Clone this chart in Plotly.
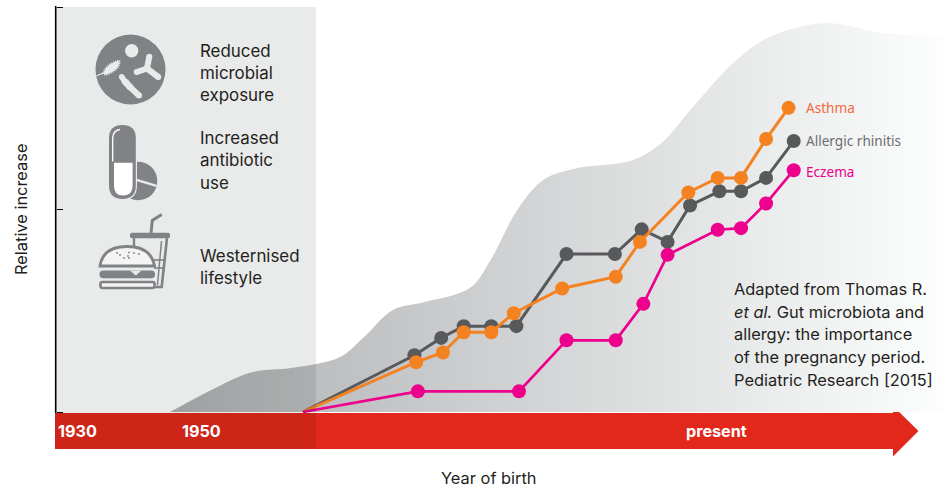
import plotly.graph_objects as go

W, H = 952, 488
X0_PX, X_SCALE = 55, 8.64
Y0_PX, Y_SCALE = 412, 4.05

asthma_x = [28.7, 41.8, 44.9, 47.3, 50.5, 53.1, 58.7, 64.9, 67.7, 73.3, 76.7, 79.4, 82.3, 84.9]
asthma_y = [0, 12.3, 14.7, 19.7, 19.7, 24.4, 30.5, 33.4, 42.0, 54.2, 57.8, 57.8, 67.4, 75.1]
rhinitis_x = [28.7, 41.6, 44.7, 47.3, 50.5, 53.4, 59.2, 64.8, 67.9, 70.9, 73.5, 76.9, 79.4, 82.3, 85.5]
rhinitis_y = [0, 14.0, 18.3, 21.2, 21.2, 21.2, 39.0, 39.0, 45.1, 42.0, 51.0, 54.5, 54.5, 57.8, 66.9]
eczema_x = [28.7, 42.0, 53.7, 59.2, 64.9, 68.1, 70.9, 76.7, 79.4, 82.3, 85.5]
eczema_y = [0, 5.1, 5.1, 17.7, 17.7, 26.7, 38.8, 45.0, 45.4, 51.5, 59.7]
hill_x = [13.3, 18.8, 22.8, 27.5, 33.0, 35.8, 39.1, 42.7, 48.0, 50.4, 53.5,
          56.5, 60.0, 66.9, 70.4, 73.5, 78.5, 82.4, 88.9, 95.8, 103.4]
hill_y = [0, 6.2, 9.8, 10.9, 13.6, 18.6, 25.2, 27.1, 30.6, 37.5, 49.9,
          57.3, 60.0, 62.2, 66.8, 74.5, 86.2, 92.3, 96.0, 93.6, 92.8]

ORANGE, GREY, PINK = "#f58220", "#58595b", "#ec008c"
ICON = "#808285"
PANEL_ON_WHITE = "#e9ebea"
FONT = "Inter"

x_range = [-X0_PX / X_SCALE, (W - X0_PX) / X_SCALE]
y_range = [(Y0_PX - H) / Y_SCALE, Y0_PX / Y_SCALE]

fig = go.Figure()
fig.add_trace(go.Scatter(
    x=hill_x, y=hill_y, mode="lines", line=dict(width=0, shape="spline", smoothing=1.0),
    fill="tozeroy",
    fillgradient=dict(type="horizontal", start=13.3, stop=103.4,
                      colorscale=[[0, "#aeafb1"], [0.98, "#fbfcfc"], [1, "#ffffff"]]),
    hoverinfo="skip"))
for name, xs, ys, colour, lw in [
    ("Allergic rhinitis", rhinitis_x, rhinitis_y, GREY, 3),
    ("Asthma", asthma_x, asthma_y, ORANGE, 3),
    ("Eczema", eczema_x, eczema_y, PINK, 2.7),
]:
    fig.add_trace(go.Scatter(x=xs, y=ys, mode="lines", name=name,
                             line=dict(color=colour, width=lw), hoverinfo="skip"))
    fig.add_trace(go.Scatter(x=xs[1:], y=ys[1:], mode="markers", name=name,
                             marker=dict(color=colour, size=14, line=dict(width=0))))


def fx(px):
    return px / W


def fy(py):
    return 1 - py / H


def pth(cmds):
    out = []
    for c in cmds:
        if isinstance(c, str):
            out.append(c)
        else:
            out.append(f"{fx(c[0]):.5f},{fy(c[1]):.5f}")
    return " ".join(out)


shapes = []


def path(cmds, fill=None, line=None, lw=0, layer="above", dash=None):
    ln = dict(color=line or "rgba(0,0,0,0)", width=lw)
    if dash:
        ln["dash"] = dash
    shapes.append(dict(type="path", xref="paper", yref="paper", path=pth(cmds), layer=layer,
                       fillcolor=fill or "rgba(0,0,0,0)", line=ln))


def circle(cx, cy, r, fill):
    shapes.append(dict(type="circle", xref="paper", yref="paper", x0=fx(cx - r), x1=fx(cx + r),
                       y0=fy(cy + r), y1=fy(cy - r), fillcolor=fill, line=dict(width=0), layer="above"))


def poly(pts, fill=None, line=None, lw=0, closed=True, layer="above"):
    cmds = []
    for i, p in enumerate(pts):
        cmds += ["M" if i == 0 else "L", p]
    if closed:
        cmds.append("Z")
    path(cmds, fill, line, lw, layer)


def stroke_round(pts, w, colour):
    poly(pts, line=colour, lw=w, closed=False)
    for p in pts:
        circle(p[0], p[1], w / 2, colour)


def rrect(x0, y0, x1, y1, r, fill=None, line=None, lw=0):
    path(["M", (x0 + r, y0), "L", (x1 - r, y0), "Q", (x1, y0), (x1, y0 + r), "L", (x1, y1 - r),
          "Q", (x1, y1), (x1 - r, y1), "L", (x0 + r, y1), "Q", (x0, y1), (x0, y1 - r),
          "L", (x0, y0 + r), "Q", (x0, y0), (x0 + r, y0), "Z"], fill, line, lw)


poly([(55, 413), (893, 413), (893, 406), (918.5, 431), (893, 456.5), (893, 449), (55, 449)],
     fill="#e2281b", layer="below")
shapes.append(dict(type="rect", xref="paper", yref="paper", x0=fx(55), x1=fx(316), y0=fy(449), y1=fy(7),
                   fillcolor="rgba(0,12,6,0.088)", line=dict(width=0), layer="above"))
poly([(55.7, 6), (55.7, 413)], line="#000000", lw=1.6, closed=False)

# microbes
circle(130.5, 69.5, 35, ICON)
circle(131.7, 50.7, 6.7, PANEL_ON_WHITE)
stroke_round([(149.3, 56.7), (147, 68.5)], 6, PANEL_ON_WHITE)
stroke_round([(136.7, 72), (147, 68.5)], 6, PANEL_ON_WHITE)
stroke_round([(158.3, 77), (147, 68.5)], 6, PANEL_ON_WHITE)
stroke_round([(121.7, 76.7), (125, 82)], 5.5, PANEL_ON_WHITE)
stroke_round([(125.5, 82), (130, 87)], 6.5, PANEL_ON_WHITE)
stroke_round([(130.5, 87.5), (139, 95.5)], 6, PANEL_ON_WHITE)
outline = ["M", (103, 73.5), "Q", (107, 63), (119.5, 60.5), "Q", (120.5, 69), (107, 74.5), "Q", (104, 75), (103, 73.5), "Z"]
path(outline, fill=PANEL_ON_WHITE)
path(outline, line=PANEL_ON_WHITE, lw=2, dash="1px,1.2px")
poly([(96.5, 76), (103, 73)], line=PANEL_ON_WHITE, lw=1.1, closed=False)

# tablet and capsule
circle(138, 181, 19.3, ICON)
poly([(136.5, 179.8), (156.5, 185.8)], line=PANEL_ON_WHITE, lw=2.4, closed=False)
rrect(107.8, 123.8, 137, 200.2, 14.6, fill=PANEL_ON_WHITE)
rrect(109, 125, 135.8, 199, 13.4, fill=ICON)
path(["M", (114, 162.7), "L", (132.6, 162.7), "L", (132.6, 186), "Q", (132.4, 195.6), (123, 195.6),
      "Q", (114, 195.6), (114, 186), "Z"], fill="#ffffff")
path(["M", (112.7, 161.5), "L", (112.7, 138), "Q", (113, 130.5), (120, 129.5)], line="#ffffff", lw=1.3)

# drink
poly([(151, 233), (152.3, 220.5), (161.7, 214.5)], line=ICON, lw=3, closed=False)
rrect(130, 232.7, 170, 238.3, 2, fill=ICON)
poly([(134, 238), (134, 248)], line=ICON, lw=2.4, closed=False)
poly([(167, 238), (161.7, 287), (155, 287)], line=ICON, lw=2.6, closed=False)
poly([(161.5, 241), (157.5, 285)], line=ICON, lw=1.5, closed=False)
poly([(154, 260), (166, 260)], line=ICON, lw=1.6, closed=False)
poly([(154, 268), (165, 268)], line=ICON, lw=1.6, closed=False)
# burger
path(["M", (100, 266), "Q", (103, 246.5), (127, 246.5), "Q", (151, 246.5), (154.5, 266), "Z"], fill="#f3f4f3",
     line=ICON, lw=2.8)
for dot in [(117, 253), (120, 255), (124, 258), (129, 252.5), (129, 258), (134, 253), (128, 256), (139, 254)]:
    circle(dot[0], dot[1], 0.9, ICON)
rrect(99.5, 270.5, 155, 278.3, 3.8, fill=ICON)
poly([(130, 270.5), (141.5, 270.5), (135.8, 275.5)], fill=PANEL_ON_WHITE)
rrect(100.5, 282, 154.5, 288, 2, fill="#f3f4f3", line=ICON, lw=2.6)

panel_lines = [("Reduced", 51), ("microbial", 73), ("exposure", 95), ("Increased", 138), ("antibiotic", 160),
               ("use", 183), ("Westernised", 256), ("lifestyle", 278)]
credit_lines = [("Adapted from Thomas R.", 289), ("<i>et al.</i> Gut microbiota and", 312),
                ("allergy: the importance", 334), ("of the pregnancy period.", 357),
                ("Pediatric Research [2015]", 380)]
series_labels = [("Asthma", 107.5, "#f26a3c"), ("Allergic rhinitis", 140, "#6d6e71"), ("Eczema", 171, "#ec008c")]
tick_labels = [("1930", 58), ("1950", 182), ("present", 686)]

ann = []


def text(s, x, y, size, color="#231f20", anchor="left", angle=0, family=FONT):
    ann.append(dict(text=s, xref="paper", yref="paper", x=fx(x), y=fy(y), xanchor=anchor, yanchor="middle",
                    showarrow=False, textangle=angle, font=dict(size=size, color=color, family=family),
                    borderpad=0, borderwidth=0))


for s, y in panel_lines:
    text(s, 200, y, 16.9)
for s, y in credit_lines:
    text(s, 734, y, 16.4)
for s, y, c in series_labels:
    text(s, 806, y, 13.6, color=c, family="Noto Sans")
for s, x in tick_labels:
    text(f"<b>{s}</b>", x, 431, 16.2, color="#ffffff")
text("Relative increase", 21, 210, 16.4, anchor="center", angle=-90)
text("Year of birth", 489, 478, 16.4, anchor="center")

fig.update_layout(
    width=W, height=H, margin=dict(l=0, r=0, t=0, b=0), showlegend=False,
    paper_bgcolor="white", plot_bgcolor="rgba(0,0,0,0)", shapes=shapes, annotations=ann,
    xaxis=dict(range=x_range, visible=False, fixedrange=True),
    yaxis=dict(range=y_range, showgrid=False, zeroline=False, showline=False, showticklabels=False,
               tickmode="array", tickvals=[0, 50, 100], ticks="inside", ticklen=6, tickcolor="#000000",
               tickwidth=1.4, anchor="free", position=55.5 / W, fixedrange=True),
)
fig.write_html("out.html", config=dict(displayModeBar=False),
               post_script="document.body.style.margin='0';document.documentElement.style.overflow='hidden';")
